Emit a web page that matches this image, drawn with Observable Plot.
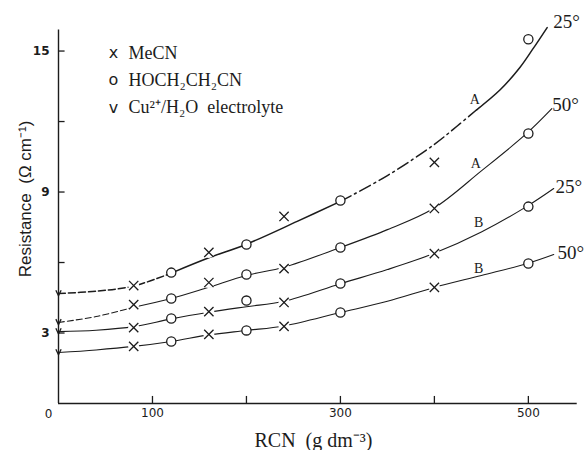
<!DOCTYPE html>
<html><head><meta charset="utf-8">
<script src="https://cdn.jsdelivr.net/npm/d3@7"></script>
<script src="https://cdn.jsdelivr.net/npm/@observablehq/plot@0.6"></script>
<style>html,body{margin:0;padding:0;background:#fff}</style>
</head><body><div id="chart"></div>
<script>
// ---- data ----
const curveKeys = ["A25", "A50", "B25", "B50"];
// MeCN points (x markers)
const mecnX = [80, 160, 240, 400];
const mecnA25 = [5.02, 6.43, 7.96, 10.26];
const mecnA50 = [4.21, 5.15, 5.74, 8.30];
const mecnB25 = [3.23, 3.91, 4.30, 6.38];
const mecnB50 = [2.43, 2.94, 3.28, 4.94];
// HOCH2CH2CN points (o markers)
const hoX = [120, 200, 300, 500];
const hoA25 = [5.57, 6.77, 8.64, 15.5];
const hoA50 = [4.47, 5.49, 6.64, 11.49];
const hoB25 = [3.62, 4.38, 5.11, 8.38];
const hoB50 = [2.64, 3.11, 3.87, 5.96];
// Cu2+/H2O electrolyte (v markers at zero RCN)
const cuX = [0, 0, 0, 0];
const cuY = [4.68, 3.45, 3.06, 2.17];
// fitted curves
const fitA25X = [0, 40, 80, 120, 160, 200, 254, 300, 350, 399, 424, 445, 470, 491, 505, 520];
const fitA25Y = [4.68, 4.78, 5.0, 5.55, 6.2, 6.78, 7.75, 8.6, 9.7, 11.0, 11.8, 12.5, 13.35, 14.3, 15.1, 16.0];
const fitA50X = [0, 40, 80, 120, 160, 200, 240, 300, 350, 399, 450, 497, 525];
const fitA50Y = [3.45, 3.7, 4.1, 4.47, 4.95, 5.45, 5.8, 6.64, 7.4, 8.3, 9.9, 11.45, 12.55];
const fitB25X = [0, 40, 80, 120, 160, 200, 240, 300, 350, 399, 450, 498, 527];
const fitB25Y = [3.06, 3.12, 3.27, 3.6, 3.88, 4.12, 4.35, 5.1, 5.7, 6.38, 7.3, 8.38, 9.15];
const fitB50X = [0, 40, 80, 120, 160, 200, 240, 300, 350, 400, 450, 499, 527];
const fitB50Y = [2.17, 2.28, 2.43, 2.64, 2.92, 3.11, 3.3, 3.87, 4.35, 4.94, 5.45, 5.96, 6.34];
// curve labels
const curveLetters = ["A", "A", "B", "B"];
const letterX = [443, 444, 447, 447];
const letterY = [12.94, 10.2, 7.7, 5.74];
const tempLabels = ["25°", "50°", "25°", "50°"];
const tempX = [526.5, 525.5, 529, 531];
const tempY = [16.23, 12.7, 9.23, 6.43];
// axes
const xTicks = [100, 200, 300, 400, 500];
const xTickLabels = [100, 300, 500];
const yTicks = [3, 6, 9, 12, 15];
const yTickLabels = [3, 9, 15];
const originLabel = ["0"];
const xAxisEnd = 552;
const yAxisEnd = 15.9;
const xLabel = "RCN  (g dm⁻³)";
const yLabel = "Resistance  (Ω cm⁻¹)";
// legend
const legendSymbols = ["x", "o", "v"];
const legendLabels = ["MeCN", "HOCH₂CH₂CN", "Cu²⁺/H₂O  electrolyte"];

// ---- tables ----
const rows = (xs, ys, key) => xs.map((x, i) => ({x, y: ys[i], key}));
const mecn = [].concat(rows(mecnX, mecnA25, "A25"), rows(mecnX, mecnA50, "A50"), rows(mecnX, mecnB25, "B25"), rows(mecnX, mecnB50, "B50"));
const ho = [].concat(rows(hoX, hoA25, "A25"), rows(hoX, hoA50, "A50"), rows(hoX, hoB25, "B25"), rows(hoX, hoB50, "B50"));
const cu = rows(cuX, cuY, "cu");
const fit = [].concat(rows(fitA25X, fitA25Y, "A25"), rows(fitA50X, fitA50Y, "A50"), rows(fitB25X, fitB25Y, "B25"), rows(fitB50X, fitB50Y, "B50"));
const letters = curveLetters.map((t, i) => ({t, x: letterX[i], y: letterY[i]}));
const temps = tempLabels.map((t, i) => ({t, x: tempX[i], y: tempY[i]}));

const ink = "#1c1c1c";
const serif = "Liberation Serif";
const sans = "DejaVu Sans";

// small open "v" symbol for the electrolyte points
const vSymbol = {
  draw(ctx, size) {
    const r = Math.sqrt(size / Math.PI);
    ctx.moveTo(-0.8 * r, -r);
    ctx.lineTo(0, 0.7 * r);
    ctx.lineTo(0.8 * r, -r);
  }
};

const segs = [
  {key: "A25", lo: 0, hi: 120, dash: "7,3", w: 1.5},
  {key: "A25", lo: 120, hi: 300, dash: null, w: 1.5},
  {key: "A25", lo: 300, hi: 445, dash: "12,4,2,4", w: 1.5},
  {key: "A25", lo: 445, hi: 600, dash: null, w: 1.5},
  {key: "A50", lo: 0, hi: 80, dash: "6,3", w: 1.1},
  {key: "A50", lo: 80, hi: 600, dash: null, w: 1.1},
  {key: "B25", lo: 0, hi: 600, dash: null, w: 1.1},
  {key: "B50", lo: 0, hi: 600, dash: null, w: 1.1}
];

const chart = Plot.plot({
  width: 588, height: 450,
  marginLeft: 58, marginRight: 0, marginTop: 20, marginBottom: 47,
  style: {background: "#fff", fontFamily: sans, fontSize: "12px", color: ink},
  x: {domain: [0, 564], axis: null},
  y: {domain: [0, 16.3], axis: null},
  marks: [
    // axes
    Plot.ruleY([0], {x1: 0, x2: xAxisEnd, stroke: ink, strokeWidth: 1.4}),
    Plot.ruleX([0], {y1: 0, y2: yAxisEnd, stroke: ink, strokeWidth: 1.4}),
    Plot.ruleX(xTicks, {x: d => d, y1: 0, y2: 0.3, stroke: ink, strokeWidth: 1.3}),
    Plot.ruleY(yTicks, {y: d => d, x1: 0, x2: 7, stroke: ink, strokeWidth: 1.3}),
    Plot.axisX({ticks: xTickLabels, tickSize: 0, tickPadding: 5, label: null, fontSize: 12, fontFamily: sans}),
    Plot.axisY({ticks: yTickLabels, tickSize: 0, tickPadding: 9, label: null, fontSize: 12, fontFamily: sans, fontWeight: "bold"}),
    Plot.text(originLabel, {frameAnchor: "bottom-left", textAnchor: "middle", lineAnchor: "middle", dx: -10, dy: 11, fontSize: 12, fontFamily: sans}),
    // curves
    ...segs.map(s => Plot.line(fit, {
      filter: d => d.key === s.key && d.x >= s.lo && d.x <= s.hi,
      x: "x", y: "y", curve: "catmull-rom",
      stroke: ink, strokeWidth: s.w, strokeDasharray: s.dash
    })),
    // markers
    Plot.dot(mecn, {x: "x", y: "y", r: 5.5, fill: "white"}),
    Plot.dot(mecn, {x: "x", y: "y", symbol: "times", r: 4.3, stroke: ink, strokeWidth: 1.3}),
    Plot.dot(ho, {x: "x", y: "y", r: 4.6, fill: "white", stroke: ink, strokeWidth: 1.3}),
    Plot.dot(cu, {x: "x", y: "y", symbol: vSymbol, r: 3.3, fill: "none", stroke: ink, strokeWidth: 1.3}),
    // curve labels
    Plot.text(letters, {x: "x", y: "y", text: "t", fontSize: 14, fontFamily: serif, fill: ink, stroke: "white", strokeWidth: 3}),
    Plot.text(temps, {x: "x", y: "y", text: "t", textAnchor: "start", fontSize: 19, fontFamily: serif, fill: ink}),
    // legend
    ...legendSymbols.map((s, i) => Plot.text([s], {frameAnchor: "top-left", textAnchor: "middle", lineAnchor: "middle", dx: 55, dy: 32 + 27.5 * i, fontSize: 16, fontFamily: sans, fill: ink})),
    ...legendLabels.map((s, i) => Plot.text([s], {frameAnchor: "top-left", dx: 70, dy: 38 + 27 * i, lineAnchor: "bottom", textAnchor: "start", fontSize: 18, fontFamily: serif, fill: ink, letterSpacing: "0.6px"})),
    // axis titles
    Plot.text([xLabel], {frameAnchor: "bottom", textAnchor: "middle", lineAnchor: "middle", dx: -10, dy: 37, fontSize: 20, fontFamily: serif, fill: ink}),
    Plot.text([yLabel], {frameAnchor: "left", textAnchor: "middle", lineAnchor: "middle", dx: -33, dy: -13, rotate: -90, fontSize: 17, fontFamily: "Liberation Sans", fill: ink, letterSpacing: "0.8px"})
  ]
});
document.getElementById("chart").appendChild(chart);
</script>
</body></html>
